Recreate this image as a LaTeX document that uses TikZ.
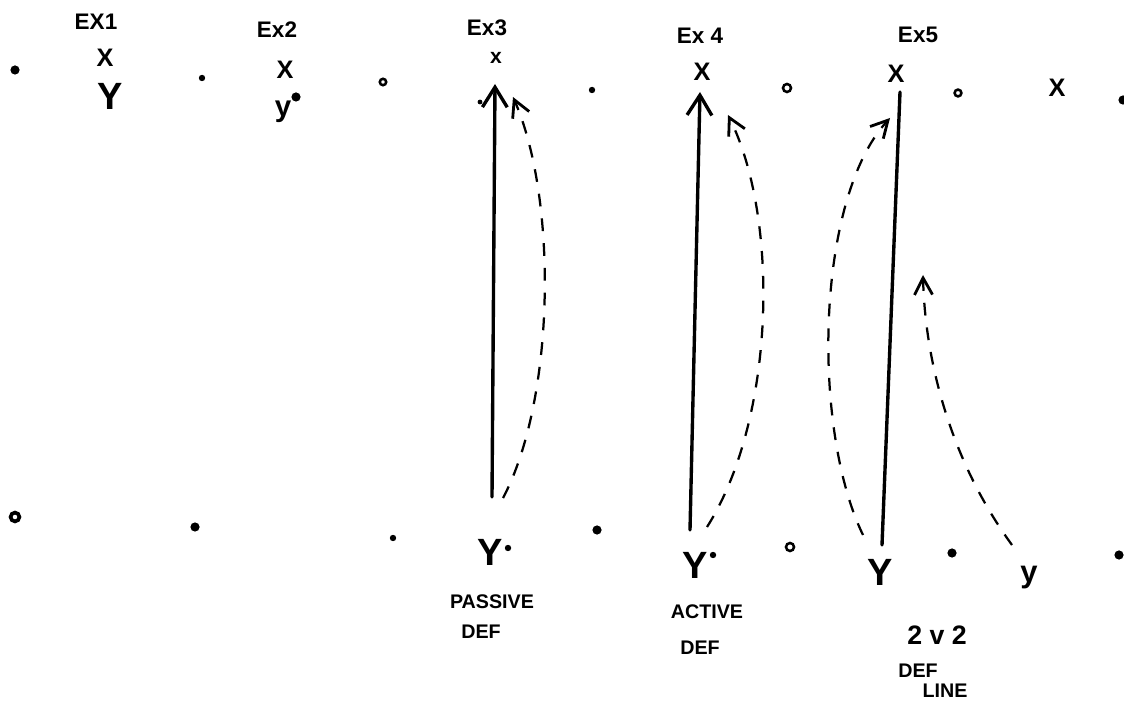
\documentclass[tikz,border=0pt]{standalone}
\usepackage{fontspec}
\setmainfont{Liberation Sans}
\usetikzlibrary{arrows.meta}
\begin{document}
\begin{tikzpicture}[x=0.025cm,y=-0.025cm,
  exlbl/.style={inner sep=0pt,font=\fontsize{16}{16}\selectfont\bfseries},
  xmark/.style={inner sep=0pt,font=\fontsize{18}{18}\selectfont\bfseries},
  ylet/.style={inner sep=0pt,font=\fontsize{27}{27}\selectfont\bfseries},
  note/.style={inner sep=0pt,font=\fontsize{14}{14}\selectfont\bfseries},
  dotf/.style={circle,fill=black,inner sep=0pt,minimum size=0.23cm},
  dots/.style={circle,fill=black,inner sep=0pt,minimum size=0.16cm},
  ring/.style={circle,draw=black,line width=1.8pt,inner sep=0pt,minimum size=0.2cm},
  solidline/.style={line width=2.4pt,line cap=round},
  dashcurve/.style={line width=1.6pt,dash pattern=on 0.32cm off 0.3cm},
  bigtip/.style={-{Straight Barb[length=0.5cm,width=0.62cm]}},
  smalltip/.style={-{Straight Barb[length=0.42cm,width=0.45cm,line width=2pt]}}
]
\useasboundingbox (0,0) rectangle (1124,707);

% ---- top labels
\node[exlbl] (ex1) at (96,22) {EX1};
\node[exlbl] (ex2) at (277,30) {Ex2};
\node[exlbl] (ex3) at (487,28) {Ex3};
\node[exlbl] (ex4) at (700,36) {Ex 4};
\node[exlbl] (ex5) at (918,35) {Ex5};

% ---- top marks
\node[xmark] (x1) at (105,58) {X};
\node[xmark] (x2) at (285,70) {X};
\node[xmark,font=\fontsize{15}{15}\selectfont\bfseries] (x3) at (496,58) {x};
\node[xmark] (x4) at (702,72) {X};
\node[xmark] (x5) at (896,74) {X};
\node[xmark] (x6) at (1057,88) {X};

\node[ylet] (y1) at (110,96) {Y};
\node[ylet,font=\fontsize{21}{21}\selectfont\bfseries] (y2) at (283,112) {y};

% ---- top row dots
\node[dotf] (t1) at (15,70) {};
\node[dots] (t2) at (202,78) {};
\node[ring,minimum size=0.16cm] (t3) at (383,82) {};
\node[dots,minimum size=0.12cm] (t4) at (480,102) {};
\node[dots] (t5) at (592,90) {};
\node[ring] (t6) at (787,88) {};
\node[ring,minimum size=0.17cm] (t7) at (958,93) {};
\node[dotf] (t8) at (1123,100) {};
\node[dotf] (t9) at (296,97) {};

% ---- bottom letters
\node[ylet] (y3) at (490,552) {Y};
\node[ylet] (y4) at (695,565) {Y};
\node[ylet] (y5) at (880,572) {Y};
\node[ylet,font=\fontsize{22}{22}\selectfont\bfseries] (y6) at (1029,578) {y};

% ---- bottom row dots
\node[ring,line width=2.6pt,minimum size=0.22cm] (b1) at (15,517) {};
\node[dotf] (b2) at (195,527) {};
\node[dots] (b3) at (393,538) {};
\node[dots] (b4) at (508,548) {};
\node[dotf] (b5) at (597,530) {};
\node[dots] (b6) at (713,555) {};
\node[ring] (b7) at (790,547) {};
\node[dotf] (b8) at (952,553) {};
\node[dotf] (b9) at (1119,555) {};

% ---- notes
\node[note] (n1) at (492,602) {PASSIVE};
\node[note] (n2) at (481,632) {DEF};
\node[note] (n3) at (707,612) {ACTIVE};
\node[note] (n4) at (700,648) {DEF};
\node[note,font=\fontsize{19}{19}\selectfont\bfseries] (n5) at (937,635) {2 v 2};
\node[note] (n6) at (918,671) {DEF};
\node[note] (n7) at (945,691) {LINE};

% ---- connector end points
\coordinate (a3b) at (492,497);
\coordinate (a3t) at (495,84);
\coordinate (c3b) at (503,498);
\coordinate (c3t) at (513,97);
\coordinate (a4b) at (690,530);
\coordinate (a4t) at (700,92);
\coordinate (c4b) at (707,527);
\coordinate (c4t) at (728,115);
\coordinate (a5t) at (900,92);
\coordinate (a5b) at (882,545);
\coordinate (c5b) at (863,535);
\coordinate (c5t) at (890,118);
\coordinate (d5b) at (1012,545);
\coordinate (d5t) at (923,275);

% ---- Ex3
\draw[solidline,bigtip] (a3b) -- (a3t);
\draw[dashcurve,smalltip] (c3b) .. controls (555,400) and (558,200) .. (c3t);
% ---- Ex4
\draw[solidline,bigtip] (a4b) -- (a4t);
\draw[dashcurve,smalltip] (c4b) .. controls (775,420) and (780,220) .. (c4t);
% ---- Ex5
\draw[solidline] (a5t) -- (a5b);
\draw[dashcurve,smalltip] (c5b) .. controls (812,430) and (815,200) .. (c5t);
\draw[dashcurve,smalltip] (d5b) .. controls (950,460) and (925,360) .. (d5t);
\end{tikzpicture}
\end{document}
